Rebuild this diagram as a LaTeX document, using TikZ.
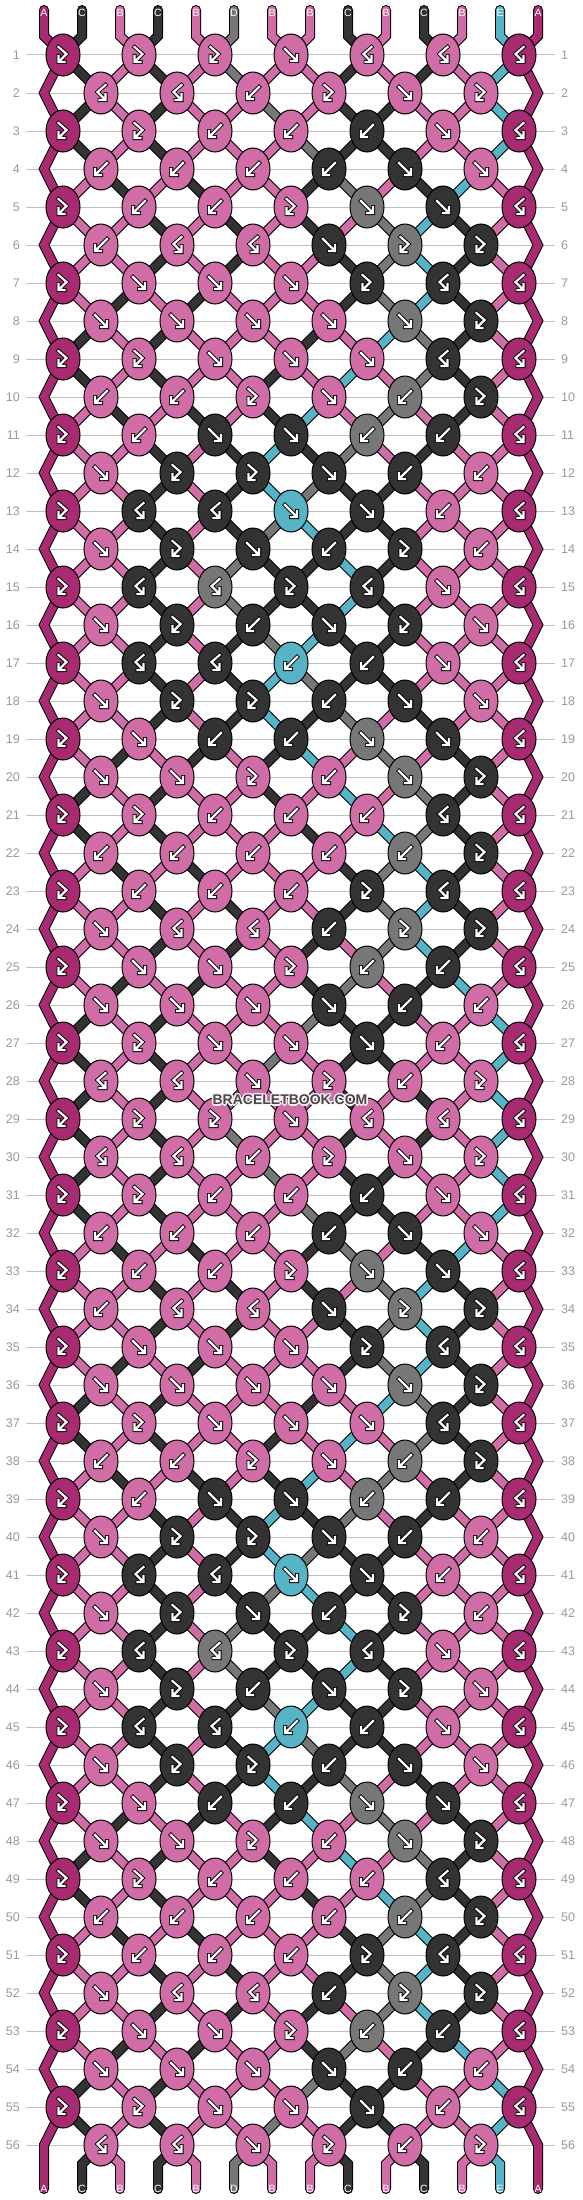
\documentclass[tikz,border=0pt]{standalone}
\usepackage{fontspec}
\setmainfont{Liberation Sans}
\usetikzlibrary{shapes.geometric}
\definecolor{colA}{HTML}{A82A70}
\definecolor{colB}{HTML}{D06CA6}
\definecolor{colC}{HTML}{333333}
\definecolor{colD}{HTML}{777777}
\definecolor{colE}{HTML}{56B4C6}
\definecolor{rowgray}{HTML}{C0C0C0}
\definecolor{numgray}{HTML}{999999}
\definecolor{markgray}{HTML}{474747}
\newcommand\knotrows{%
{F,F,F,f,B,B,B},%
{B,B,b,F,f,F},%
{F,F,b,b,b,f,B},%
{b,b,b,b,f,f},%
{F,b,b,F,f,f,B},%
{b,B,B,f,F,F},%
{F,f,f,f,F,B,B},%
{f,f,f,f,f,F},%
{F,F,f,f,f,B,B},%
{b,b,F,f,b,F},%
{F,b,f,f,b,b,B},%
{f,F,F,f,b,b},%
{F,B,B,f,f,b,B},%
{f,F,f,b,F,b},%
{F,B,B,F,B,f,B},%
{f,F,b,f,F,f},%
{F,B,B,b,b,f,B},%
{f,F,F,b,f,f},%
{F,f,b,b,f,f,B},%
{f,f,F,b,f,F},%
{F,F,b,b,b,B,B},%
{b,b,b,b,b,F},%
{F,b,b,b,F,B,B},%
{f,B,B,b,F,F},%
{F,f,f,F,b,b,B},%
{f,f,f,f,b,b},%
{F,F,f,f,f,b,B},%
{B,B,f,F,b,F}}
\newcommand\knoticon[1]{\draw[arrk] #1; \draw[arrw] #1;}
\newcommand\strandto[2]{\ifnum\rw=1 \draw[strand=col#2, line cap=round] (tp#1) -- (tb#1) -- (s1-#1.center);\else \draw[strand=col#2] (s\rp-#1.center) -- (s\rw-#1.center);\fi}
\newcommand\stranddraw{%
  \coordinate (s\rw-\ps) at (\xx,\yy);
  \coordinate (s\rw-\qs) at (\xx,\yy);
  \ifnum\ps>0 \strandto{\ps}{\lc}\fi
  \ifnum\qs<13 \strandto{\qs}{\rc}\fi}
\newcommand\knotdraw{%
  \edef\kfill{col\kc}
  \node[knot=\kfill] (k\rw-\ki) at (s\rw-\ps) {};
  \pic at (k\rw-\ki) {arr\kt};}
\newcommand\weave[1]{%
\foreach \scol [count=\ps from 0] in {A,C,B,C,B,D,B,B,C,B,C,B,E,A} {\expandafter\xdef\csname st\ps\endcsname{\scol}}
\foreach \rep in {0,1} {
  \foreach \kts [count=\rr] in \knotrows {
    \pgfmathtruncatemacro\rw{28*\rep+\rr}
    \pgfmathtruncatemacro\rp{\rw-1}
    \pgfmathsetmacro\yy{55+38*\rp}
    \ifodd\rw \def\off{0}\else \def\off{1}
      \coordinate (s\rw-0) at (44,\yy);
      \coordinate (s\rw-13) at (538,\yy);
    \fi
    \foreach \kt [count=\ki from 0] in \kts {
      \pgfmathtruncatemacro\ps{2*\ki+\off}
      \pgfmathtruncatemacro\qs{\ps+1}
      \pgfmathsetmacro\xx{63+38*\off+76*\ki}
      \edef\lc{\csname st\ps\endcsname}
      \edef\rc{\csname st\qs\endcsname}
      \let\kc\rc \def\sw{0}
      \if f\kt \let\kc\lc \def\sw{1}\fi
      \if F\kt \let\kc\lc \fi
      \if b\kt \def\sw{1}\fi
      #1
      \ifnum\sw=1
        \expandafter\xdef\csname st\ps\endcsname{\rc}
        \expandafter\xdef\csname st\qs\endcsname{\lc}
      \fi
    }
  }
}}
\tikzset{
  knot/.style={ellipse, draw=black, line width=1pt, fill=#1, minimum width=34pt, minimum height=42pt, inner sep=0pt},
  strand/.style={draw=black, line width=1pt, double=#1, double distance=8pt},
  arrk/.style={draw=black, line width=4pt, line cap=rect, line join=miter},
  arrw/.style={draw=white, line width=2.2pt, line cap=rect, line join=miter},
  rowline/.style={draw=rowgray, line width=1pt},
  num/.style={text=numgray, font=\fontsize{12.5}{14}\selectfont, inner sep=0pt},
  lab/.style={text=white, font=\fontsize{10.5}{12}\selectfont, inner sep=0pt},
  mark/.style={text=#1, font=\bfseries\fontsize{14}{16}\selectfont, inner sep=0pt},
  arrf/.pic={\knoticon{(-6,-6) -- (4.5,4.5) (0,6) -- (6,6) -- (6,0)}},
  arrb/.pic={\knoticon{(6,-6) -- (-4.5,4.5) (0,6) -- (-6,6) -- (-6,0)}},
  arrF/.pic={\knoticon{(-4.5,-8) -- (3.5,-1) -- (-3.3,5.8) (-4.5,1) -- (-4.5,7) -- (1.5,7)}},
  arrB/.pic={\knoticon{(4.5,-8) -- (-3.5,-1) -- (3.3,5.8) (4.5,1) -- (4.5,7) -- (-1.5,7)}}
}
\begin{document}
\begin{tikzpicture}[x=1pt, y=-1pt]
\useasboundingbox (0,0) rectangle (582,2200);
\fill[white] (0,0) rectangle (582,2200);
\foreach \rw in {1,...,56} {
  \node[num, anchor=east] (nl\rw) at (20,{55+38*(\rw-1)}) {\rw};
  \node[num, anchor=west] (nr\rw) at (561,{55+38*(\rw-1)}) {\rw};
  \draw[rowline] ([xshift=6pt]nl\rw.east) -- ([xshift=-6pt]nr\rw.west);
}
\foreach \ps in {0,...,13} {
  \coordinate (tp\ps) at ({44+38*\ps},10);
  \coordinate (tb\ps) at ({44+38*\ps},36);
  \coordinate (bb\ps) at ({44+38*\ps},2164);
  \coordinate (bp\ps) at ({44+38*\ps},2189);
}
\weave{\stranddraw}
\foreach \ps in {1,...,12} {
  \edef\lc{\csname st\ps\endcsname}
  \draw[strand=col\lc, line cap=round] (s56-\ps.center) -- (bb\ps) -- (bp\ps);
}
\draw[strand=colA, line cap=round] (tp0) -- (tb0) \foreach \rw in {1,...,56} {-- (s\rw-0.center)} -- (bp0);
\draw[strand=colA, line cap=round] (tp13) -- (tb13) \foreach \rw in {1,...,56} {-- (s\rw-13.center)} -- (bp13);
\weave{\knotdraw}
\foreach \scol [count=\ps from 0] in {A,C,B,C,B,D,B,B,C,B,C,B,E,A} {
  \node[lab] (lt\ps) at ({44+38*\ps},13) {\scol};
  \node[lab] (lb\ps) at ({44+38*\ps},2189) {\scol};
}
\foreach \ang [count=\h] in {0,45,...,315} {
  \node[mark=white!92!colB, shift={(\ang:1.6)}] (wmh\h) at (290,1100) {BRACELETBOOK.COM};
}
\node[mark=markgray] (wm) at (290,1100) {BRACELETBOOK.COM};
\end{tikzpicture}
\end{document}
